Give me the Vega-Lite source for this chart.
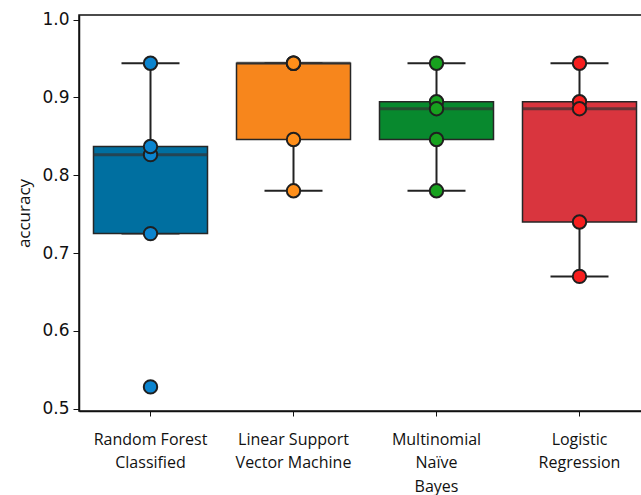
{
  "$schema": "https://vega.github.io/schema/vega-lite/v6.json",
  "autosize": "none",
  "padding": {"left": 79, "top": 15, "right": 0, "bottom": 84},
  "width": 572,
  "height": 396,
  "background": "white",
  "config": {
    "view": {"stroke": "#111111", "strokeWidth": 1.5},
    "axis": {"grid": false, "domainColor": "#111111", "domainWidth": 1.5, "tickColor": "#111111", "labelColor": "#111111", "titleColor": "#111111"}
  },
  "data": {
    "values": [
      {"model": "Random Forest Classified", "accuracy": 0.944},
      {"model": "Random Forest Classified", "accuracy": 0.8265},
      {"model": "Random Forest Classified", "accuracy": 0.837},
      {"model": "Random Forest Classified", "accuracy": 0.725},
      {"model": "Random Forest Classified", "accuracy": 0.528},
      {"model": "Linear Support Vector Machine", "accuracy": 0.944},
      {"model": "Linear Support Vector Machine", "accuracy": 0.944},
      {"model": "Linear Support Vector Machine", "accuracy": 0.944},
      {"model": "Linear Support Vector Machine", "accuracy": 0.846},
      {"model": "Linear Support Vector Machine", "accuracy": 0.78},
      {"model": "Multinomial Naïve Bayes", "accuracy": 0.944},
      {"model": "Multinomial Naïve Bayes", "accuracy": 0.8946},
      {"model": "Multinomial Naïve Bayes", "accuracy": 0.8856},
      {"model": "Multinomial Naïve Bayes", "accuracy": 0.846},
      {"model": "Multinomial Naïve Bayes", "accuracy": 0.78},
      {"model": "Logistic Regression", "accuracy": 0.944},
      {"model": "Logistic Regression", "accuracy": 0.8946},
      {"model": "Logistic Regression", "accuracy": 0.8856},
      {"model": "Logistic Regression", "accuracy": 0.74},
      {"model": "Logistic Regression", "accuracy": 0.67}
    ]
  },
  "encoding": {
    "x": {
      "field": "model",
      "type": "nominal",
      "sort": ["Random Forest Classified", "Linear Support Vector Machine", "Multinomial Naïve Bayes", "Logistic Regression"],
      "scale": {"paddingInner": 0, "paddingOuter": 0},
      "axis": {
        "title": null,
        "labelAngle": 0,
        "tickSize": 5,
        "labelPadding": 15,
        "labelFont": "Open Sans",
        "labelFontSize": 16,
        "labelLineHeight": 23.5,
        "labelBaseline": "top",
        "labelExpr": "datum.value == 'Random Forest Classified' ? ['Random Forest', 'Classified'] : datum.value == 'Linear Support Vector Machine' ? ['Linear Support', 'Vector Machine'] : datum.value == 'Multinomial Naïve Bayes' ? ['Multinomial', 'Naïve', 'Bayes'] : ['Logistic', 'Regression']"
      }
    },
    "y": {
      "field": "accuracy",
      "type": "quantitative",
      "scale": {"domain": [0.497, 1.006], "nice": false, "zero": false},
      "axis": {
        "title": "accuracy",
        "values": [0.5, 0.6, 0.7, 0.8, 0.9, 1.0],
        "format": ".1f",
        "tickSize": 6,
        "labelPadding": 4,
        "labelFont": "DejaVu Sans",
        "labelFontSize": 17,
        "titleFont": "Open Sans",
        "titleFontSize": 17,
        "titleFontWeight": "normal",
        "titlePadding": 8
      }
    }
  },
  "layer": [
    {
      "mark": {
        "type": "boxplot",
        "extent": 1.5,
        "size": 114,
        "outliers": false,
        "box": {"stroke": "#262626", "strokeWidth": 1.5},
        "median": {"color": "#333333", "thickness": 3},
        "rule": {"color": "#222222", "strokeWidth": 2},
        "ticks": {"color": "#222222", "size": 58, "thickness": 2}
      },
      "encoding": {
        "color": {
          "field": "model",
          "type": "nominal",
          "sort": ["Random Forest Classified", "Linear Support Vector Machine", "Multinomial Naïve Bayes", "Logistic Regression"],
          "scale": {"range": ["#006fa0", "#f7861c", "#08892e", "#d9353e"]},
          "legend": null
        }
      }
    },
    {
      "mark": {"type": "point", "filled": true, "size": 180, "opacity": 1, "stroke": "#1f1f1f", "strokeWidth": 2},
      "encoding": {
        "fill": {
          "field": "model",
          "type": "nominal",
          "sort": ["Random Forest Classified", "Linear Support Vector Machine", "Multinomial Naïve Bayes", "Logistic Regression"],
          "scale": {"range": ["#0b84cf", "#ff8f1a", "#17a11e", "#f71e1e"]},
          "legend": null
        }
      }
    }
  ],
  "resolve": {"scale": {"color": "independent", "fill": "independent"}}
}
